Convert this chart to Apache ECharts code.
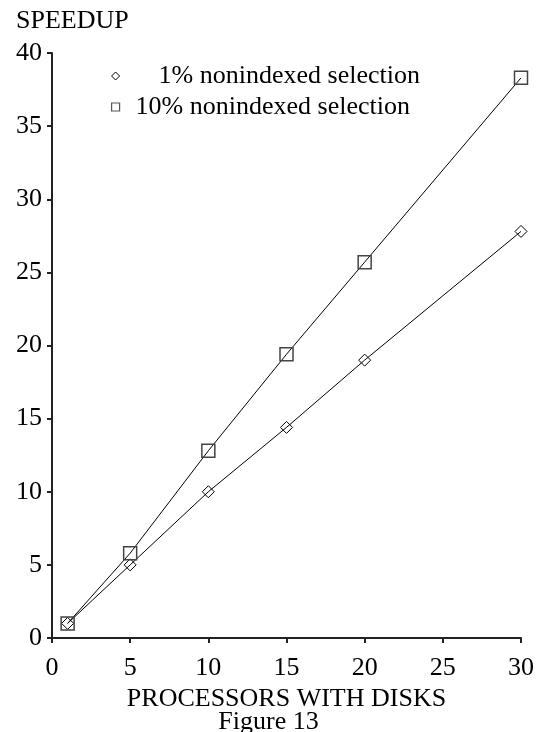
<!DOCTYPE html>
<html>
<head>
<meta charset="utf-8">
<script src="https://cdn.jsdelivr.net/npm/echarts@6/dist/echarts.min.js"></script>
<style>
html,body{margin:0;padding:0;background:#fff;}
#chart{width:537px;height:732px;}
</style>
</head>
<body>
<div id="chart"></div>
<script>
var processors = [1, 5, 10, 15, 20, 30];
var sel1 = [1, 5, 10, 14.4, 19, 27.8];
var sel10 = [1, 5.8, 12.8, 19.4, 25.7, 38.3];
var name1 = '1% nonindexed selection';
var name10 = '10% nonindexed selection';
var FONT = "'Liberation Serif', 'Times New Roman', serif";

function pairs(xs, ys) { return xs.map(function (x, i) { return [x, ys[i]]; }); }

var chart = echarts.init(document.getElementById('chart'), null, {renderer: 'canvas'});
chart.setOption({
  animation: false,
  backgroundColor: '#fff',
  textStyle: {fontFamily: FONT},
  title: [
    {text: 'SPEEDUP', left: 11, top: 3,
     textStyle: {fontFamily: FONT, fontSize: 26, fontWeight: 'normal', color: '#000'}},
    {text: 'Figure 13', left: 'center', top: 704,
     textStyle: {fontFamily: FONT, fontSize: 26, fontWeight: 'normal', color: '#000'}}
  ],
  grid: {left: 52, right: 16, top: 53, bottom: 94, containLabel: false},
  legend: {
    orient: 'vertical', left: 106, top: 58, itemGap: 5,
    itemWidth: 8, itemHeight: 8,
    textStyle: {fontFamily: FONT, fontSize: 26, color: '#000', lineHeight: 26},
    data: [
      {name: name1, icon: 'diamond',
       itemStyle: {color: '#fff', borderColor: '#000', borderWidth: 1},
       textStyle: {padding: [0, 0, 0, 34]}},
      {name: name10, icon: 'rect',
       itemStyle: {color: '#fff', borderColor: '#555', borderWidth: 1.2},
       textStyle: {padding: [0, 0, 0, 11]}}
    ]
  },
  xAxis: {
    type: 'value', min: 0, max: 30, interval: 5,
    name: 'PROCESSORS WITH DISKS', nameLocation: 'middle', nameGap: 48,
    nameTextStyle: {fontFamily: FONT, fontSize: 26, color: '#000'},
    axisLine: {lineStyle: {color: '#222', width: 2}},
    axisTick: {show: true, inside: false, length: 5, lineStyle: {color: '#222', width: 2}},
    axisLabel: {fontFamily: FONT, fontSize: 26, color: '#000', margin: 17},
    splitLine: {show: false}
  },
  yAxis: {
    type: 'value', min: 0, max: 40, interval: 5,
    axisLine: {show: true, lineStyle: {color: '#222', width: 2}},
    axisTick: {show: true, inside: false, length: 5, lineStyle: {color: '#222', width: 2}},
    axisLabel: {fontFamily: FONT, fontSize: 26, color: '#000', margin: 10},
    splitLine: {show: false}
  },
  series: [
    {
      name: name1, type: 'line', data: pairs(processors, sel1),
      symbol: 'diamond', symbolSize: 12,
      lineStyle: {color: '#000', width: 1},
      itemStyle: {color: 'rgba(255,255,255,0)', borderColor: '#000', borderWidth: 1}
    },
    {
      name: name10, type: 'line', data: pairs(processors, sel10),
      symbol: 'rect', symbolSize: 13,
      lineStyle: {color: '#000', width: 1},
      itemStyle: {color: 'rgba(255,255,255,0)', borderColor: '#444', borderWidth: 1.5}
    }
  ]
});
</script>
</body>
</html>
